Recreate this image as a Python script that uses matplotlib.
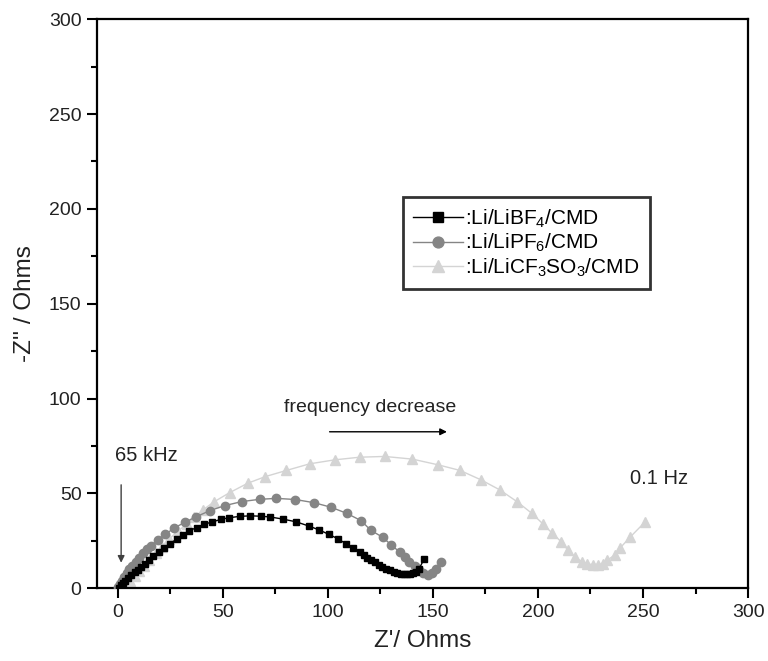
import matplotlib
matplotlib.use("Agg")
import matplotlib.pyplot as plt
from matplotlib.ticker import MultipleLocator

plt.rcParams['font.family'] = ['Liberation Sans', 'DejaVu Sans']
plt.rcParams['mathtext.fontset'] = 'custom'
plt.rcParams['mathtext.rm'] = 'Liberation Sans'
plt.rcParams['mathtext.it'] = 'Liberation Sans'

# LiBF4 (black squares)
bf4_x = [0.5, 1.5, 2.5, 3.5, 5, 6.5, 8, 9.5, 11, 13, 15, 17, 19.5, 22, 25, 28, 31, 34,
         37.5, 41, 45, 49, 53, 58, 63, 68, 72.5, 78.5, 85, 91, 96, 100.5, 104.8, 108.4,
         111.9, 115.1, 117, 118.8, 120.6, 122.4, 124.2, 126, 127.8, 129.6, 131.3, 133,
         134.6, 136.2, 137.8, 139.3, 140.7, 142, 143.3, 145.7]
bf4_y = [0.3, 1.5, 2.7, 4, 5.5, 7, 8.5, 9.8, 11, 13, 15, 17, 19, 21, 23.5, 26, 28.3, 30.3,
         32, 33.7, 35, 36.3, 37.2, 37.9, 38.2, 38, 37.6, 36.5, 35, 32.8, 30.7, 28.4, 26.1,
         23.6, 21.3, 19.2, 17.6, 16.2, 14.9, 13.6, 12.4, 11.3, 10.3, 9.5, 8.8, 8.2, 7.7,
         7.4, 7.3, 7.5, 8, 8.8, 10, 15.2]

# LiPF6 (grey circles)
pf6_x = [0.3, 1, 2, 3, 4.2, 5.5, 7, 8.5, 10, 12, 14, 16, 19, 22.6, 27, 32, 37.3, 44, 51,
         59, 67.5, 75.5, 84.5, 93.5, 101.6, 109, 115.9, 120.3, 126.2, 130.2, 134.1, 136.5,
         138.8, 141.3, 143.4, 145.3, 147.7, 149.7, 151.6, 154]
pf6_y = [0.5, 2, 4, 6, 8, 10, 12, 14, 16, 18.5, 20.5, 22.5, 25.5, 28.4, 31.9, 34.8, 37.7,
         41, 43.6, 45.7, 46.9, 47.4, 46.8, 45.1, 42.7, 39.5, 35.6, 30.7, 26.8, 22.8, 19.2,
         16.6, 13.9, 11.6, 9.5, 7.8, 6.9, 7.8, 10.4, 13.9]

# LiCF3SO3 (light grey triangles)
cf3_x = [2, 4, 6, 8, 10, 12.5, 15, 18, 21, 24.5, 28.5, 33, 36.5, 40.5, 46, 53.2, 61.9,
         70.3, 80.2, 91.3, 103.2, 115.1, 127, 140.2, 152.4, 163, 173, 181.8, 190, 197.1,
         202.4, 206.9, 211.1, 214.3, 217.5, 221, 223.5, 226, 228.5, 231, 233, 236.5,
         238.9, 244, 251.1]
cf3_y = [0.5, 2, 4, 6.5, 9, 12, 15, 18.5, 22, 26, 30, 34, 37.5, 41.3, 45.7, 50.4, 55.4,
         58.9, 62.1, 65.6, 67.7, 69.1, 69.5, 68.1, 65.1, 62.1, 57.1, 51.9, 45.7, 39.5,
         33.9, 28.9, 24.5, 20.1, 16.6, 13.9, 12.7, 12.5, 12.5, 12.7, 14.8, 17.5, 21,
         27.1, 35.1]

labels = [':Li/LiBF$_4$/CMD', ':Li/LiPF$_6$/CMD', ':Li/LiCF$_3$SO$_3$/CMD']

fig = plt.figure(figsize=(7.68, 6.61), dpi=100)
ax = fig.add_axes([0.126, 0.110, 0.848, 0.861])

ax.plot(cf3_x, cf3_y, '-^', color='#d4d4d4', mec='#d4d4d4', mfc='#d4d4d4', ms=6.5, lw=1.0,
        label=labels[2], zorder=2)
ax.plot(pf6_x, pf6_y, '-o', color='#858585', mec='#858585', mfc='#858585', ms=6, lw=1.0,
        label=labels[1], zorder=3)
ax.plot(bf4_x, bf4_y, '-s', color='black', ms=5, lw=1.0, label=labels[0], zorder=4)

ax.set_xlim(-10, 300)
ax.set_ylim(0, 300)
ax.xaxis.set_major_locator(MultipleLocator(50))
ax.xaxis.set_minor_locator(MultipleLocator(25))
ax.yaxis.set_major_locator(MultipleLocator(50))
ax.yaxis.set_minor_locator(MultipleLocator(25))
ax.tick_params(which='major', direction='out', length=7, width=1.5, labelsize=14, pad=4,
               top=False, right=False, labelcolor='#222222')
ax.tick_params(which='minor', direction='out', length=4, width=1.5, top=False, right=False)
for s in ax.spines.values():
    s.set_linewidth(1.6)

ax.set_xlabel("Z'/ Ohms", fontsize=17.5, labelpad=7, color='#222222')
ax.set_ylabel("-Z'' / Ohms", fontsize=17.5, labelpad=9, color='#222222')

h, l = ax.get_legend_handles_labels()
leg = ax.legend(h[::-1], l[::-1], loc='upper left', bbox_to_anchor=(0.470, 0.687),
                borderaxespad=0, fontsize=15, frameon=True, fancybox=False,
                edgecolor='black', handlelength=2.4, handletextpad=0.1,
                labelspacing=0.1, borderpad=0.5, markerscale=1.3)
leg.get_frame().set_linewidth(2)

ax.annotate('', xy=(1.6, 12), xytext=(1.6, 56),
            arrowprops=dict(arrowstyle='-|>', color='#404040', lw=1, mutation_scale=10))
ax.text(-1.2, 69.8, '65 kHz', fontsize=14.5, va='center', ha='left', color='#222222')
ax.annotate('', xy=(158, 82.5), xytext=(99.5, 82.5),
            arrowprops=dict(arrowstyle='-|>', color='black', lw=1, mutation_scale=10))
ax.text(120, 95.2, 'frequency decrease', fontsize=14, va='center', ha='center', color='#222222')
ax.text(257.5, 57.7, '0.1 Hz', fontsize=14.5, va='center', ha='center', color='#222222')

fig.savefig('out.png', dpi=100)
